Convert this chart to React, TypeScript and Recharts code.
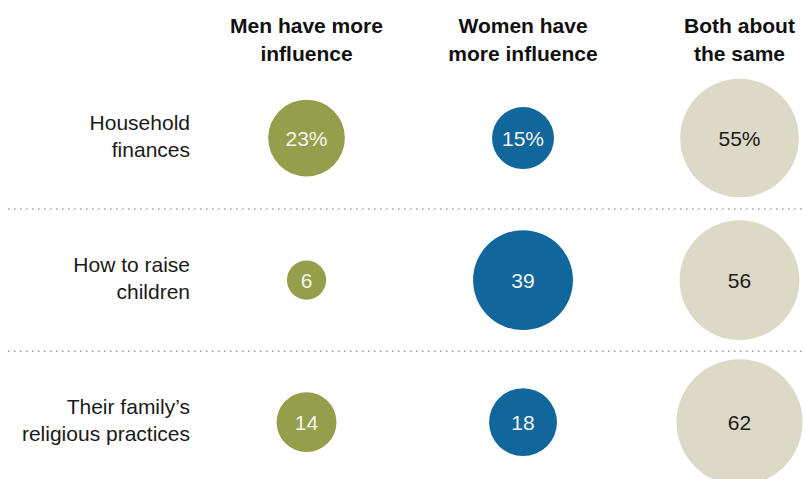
import { ScatterChart, Scatter, XAxis, YAxis, ZAxis, ReferenceLine } from 'recharts'

// Share of adults saying who has more influence in each decision
const ROWS = ['Household finances', 'How to raise children', "Their family's religious practices"]
const ROW_LINES = [['Household', 'finances'], ['How to raise', 'children'], ['Their family\u2019s', 'religious practices']]
const HEADER_LINES = [['Men have more', 'influence'], ['Women have', 'more influence'], ['Both about', 'the same']]
const MEN = [23, 6, 14]
const WOMEN = [15, 39, 18]
const BOTH = [55, 56, 62]

const COLORS = ['#959e4b', '#11679b', '#dcd9c6']
const LABEL_COLORS = ['#f4f4f0', '#f4f4f0', '#1a1a1a']

const toPoints = (values: number[], col: number) =>
  values.map((v, i) => ({
    col,
    row: i,
    name: ROWS[i],
    value: v,
    label: i === 0 ? `${v}%` : `${v}`,
  }))

const menData = toPoints(MEN, 0)
const womenData = toPoints(WOMEN, 1)
const bothData = toPoints(BOTH, 2)

const LABEL_FONT = '"Liberation Sans", Arial, sans-serif'

function makeBubble(fill: string, textColor: string) {
  return (props: any) => {
    const { cx, cy, payload } = props
    const r = props.width != null ? props.width / 2 : Math.sqrt((props.size || 0) / Math.PI)
    return (
      <g>
        <circle cx={cx} cy={cy} r={r} fill={fill} />
        <text
          x={cx}
          y={cy}
          dy="0.36em"
          textAnchor="middle"
          fill={textColor}
          style={{ fontFamily: LABEL_FONT, fontSize: 21 }}
        >
          {payload.label}
        </text>
      </g>
    )
  }
}

const renderHeaderTick = (props: any) => {
  const { x, payload } = props
  const lines = HEADER_LINES[payload.value] || []
  return (
    <text textAnchor="middle" fill="#111" style={{ fontFamily: LABEL_FONT, fontSize: 21, fontWeight: 700 }}>
      {lines.map((l, i) => (
        <tspan key={i} x={x} y={25 + i * 28} dy="0.36em">{l}</tspan>
      ))}
    </text>
  )
}

const renderRowTick = (props: any) => {
  const { y, payload } = props
  const lines = ROW_LINES[payload.value] || []
  return (
    <text textAnchor="end" fill="#1a1a1a" style={{ fontFamily: LABEL_FONT, fontSize: 21 }}>
      {lines.map((l, i) => (
        <tspan key={i} x={190} y={y - 2 + (i - (lines.length - 1) / 2) * 27} dy="0.36em">{l}</tspan>
      ))}
    </text>
  )
}

export default function App() {
  return (
    <div style={{ position: 'absolute', left: 0, top: 0, background: '#fff' }}>
      <ScatterChart width={805} height={479} margin={{ top: 0, right: 0, bottom: 0, left: 7 }}>
        <XAxis
          type="number"
          dataKey="col"
          orientation="top"
          height={67}
          domain={[-1.379, 2.3025]}
          allowDataOverflow
          ticks={[0, 1, 2]}
          interval={0}
          axisLine={false}
          tickLine={false}
          tick={renderHeaderTick}
        />
        <YAxis
          type="number"
          dataKey="row"
          domain={[-0.5, 2.4]}
          allowDataOverflow
          reversed
          ticks={[0, 1, 2]}
          interval={0}
          width={1}
          axisLine={false}
          tickLine={false}
          tick={renderRowTick}
        />
        <ZAxis type="number" dataKey="value" domain={[0, 100]} range={[0, 64 * Math.PI * 100]} />
        <ReferenceLine y={0.5} stroke="#a0a0a0" strokeWidth={1.5} strokeDasharray="1.5 4.5" />
        <ReferenceLine y={1.5} stroke="#a0a0a0" strokeWidth={1.5} strokeDasharray="1.5 4.5" />
        <Scatter data={menData} shape={makeBubble(COLORS[0], LABEL_COLORS[0])} isAnimationActive={false} />
        <Scatter data={womenData} shape={makeBubble(COLORS[1], LABEL_COLORS[1])} isAnimationActive={false} />
        <Scatter data={bothData} shape={makeBubble(COLORS[2], LABEL_COLORS[2])} isAnimationActive={false} />
      </ScatterChart>
    </div>
  )
}
